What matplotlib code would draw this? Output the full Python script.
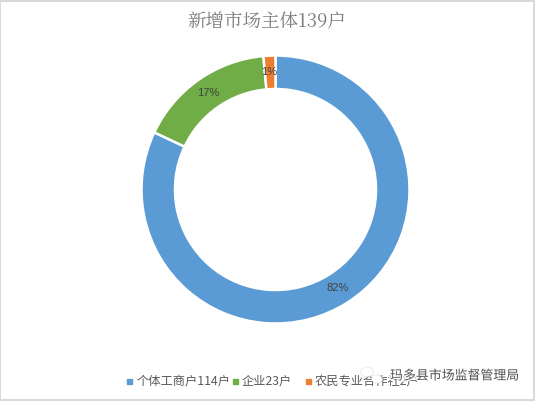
import matplotlib
matplotlib.use("Agg")
import matplotlib.pyplot as plt
import matplotlib.patheffects as pe
from matplotlib.patches import Rectangle, Circle

cats = ["个体工商户114户", "企业23户", "农民专业合作社2户"]
vals = [114, 23, 2]
pct_labels = ["82%", "17%", "1%"]
colors = ["#5B9BD5", "#70AD47", "#ED7D31"]
title = "新增市场主体139户"
wm = "玛多县市场监督管理局"

plt.rcParams['font.family'] = ['Noto Sans CJK SC', 'DejaVu Sans']
W, H = 535, 401
fig = plt.figure(figsize=(W/100, H/100), dpi=100, facecolor="white")
cx, cy, R = 275.5, 189.5, 134
ax = fig.add_axes([(cx-R)/W, 1-(cy+R)/H, 2*R/W, 2*R/H])
wedges, _ = ax.pie(vals, colors=colors, startangle=90, counterclock=False, radius=1,
       wedgeprops=dict(width=0.25, edgecolor="white", linewidth=1.8))
ax.set_xlim(-1, 1); ax.set_ylim(-1, 1)
ax.axis("off")

def T(x, y, s, **k):
    return fig.text(x/W, 1-y/H, s, **k)

for (x, y), s in zip([(338, 288), (208, 93), (269, 72)], pct_labels):
    T(x, y, s, fontsize=8, color="#404040", ha="center", va="center", family=["Liberation Sans"])
T(267, 22, title, fontsize=13.3, color="#7a7a7a", ha="center", va="center",
  family=["Noto Serif CJK SC", "Noto Sans CJK SC"])

for (x, off, c, s) in zip([127, 233, 306], [10, 9, 9], colors, cats):
    fig.add_artist(Rectangle((x/W, 1-384/H), 5/W, 5/H, color=c, transform=fig.transFigure))
    T(x+off, 381.5, s, fontsize=8.8, color="#595959", ha="left", va="center")

for (x, y, r) in [(367, 372, 6.5), (377, 379, 5.5)]:
    fig.add_artist(Circle((x/W, 1-y/H), r/W, transform=fig.transFigure, facecolor="white",
                          edgecolor="#c8c8c8", linewidth=0.6, linestyle=":", zorder=4))
T(390, 376, wm, fontsize=9.3, color="#505050", ha="left", va="center", zorder=5,
  path_effects=[pe.withStroke(linewidth=2, foreground="white")])

for x0, y0, x1, y1 in [(0, 0, 535, 1.5), (0, 398.5, 535, 400.5), (0, 0, 1.5, 401), (532.5, 0, 534.5, 401)]:
    fig.add_artist(Rectangle((x0/W, 1-y1/H), (x1-x0)/W, (y1-y0)/H, color="#d9d9d9", linewidth=0, transform=fig.transFigure))
fig.savefig("out.png", dpi=100, facecolor="white")
